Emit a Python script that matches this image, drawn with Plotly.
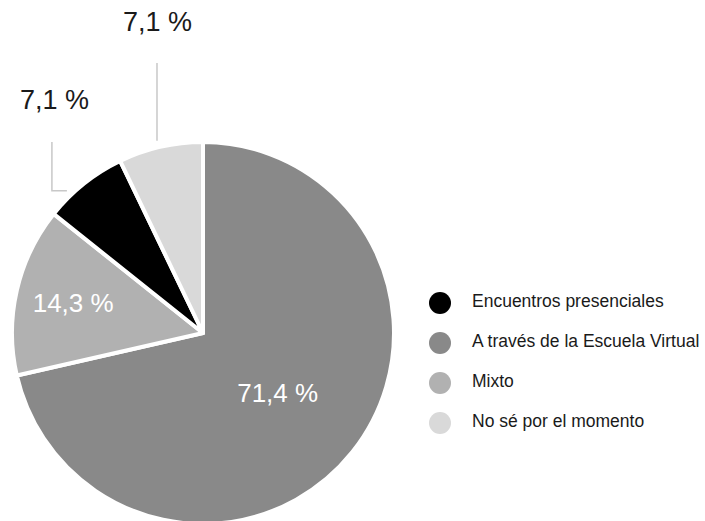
import math
import plotly.graph_objects as go

# ---- data (legend order) ----
labels = ["Encuentros presenciales", "A través de la Escuela Virtual", "Mixto", "No sé por el momento"]
values = [1, 10, 2, 1]
colors = ["#000000", "#898989", "#b1b1b1", "#d9d9d9"]
inside = [False, True, True, False]
# clockwise order of the slices starting at 12 o'clock
pie_order = [1, 2, 0, 3]

W, H = 705, 521
HF = 524  # figure slightly taller than the window so the pie bottom is cut like the reference
FONT = "Liberation Sans, Arial, sans-serif"

total = sum(values)
pct_text = [f"{v / total * 100:.1f} %".replace(".", ",") for v in values]

# pie geometry (pixels)
R = 191
CX, CY = 203, HF - R

p_labels = [labels[i] for i in pie_order]
p_values = [values[i] for i in pie_order]
p_colors = [colors[i] for i in pie_order]
p_inside = [inside[i] for i in pie_order]
p_text = [pct_text[i] for i in pie_order]

fig = go.Figure()
fig.add_trace(go.Pie(
    labels=p_labels, values=p_values, sort=False, direction="clockwise",
    rotation=0,
    marker=dict(colors=p_colors, line=dict(color="white", width=4)),
    text=[t if ins else "" for t, ins in zip(p_text, p_inside)],
    textinfo="text",
    textposition=["inside" if ins else "none" for ins in p_inside],
    insidetextorientation="horizontal",
    insidetextfont=dict(color="white", size=26, family=FONT),
    domain=dict(x=[(CX - R) / W, (CX + R) / W], y=[0, 2 * R / HF]),
    showlegend=False, hoverinfo="label+percent",
))

# ---- outside labels with leader lines (derived from slice angles) ----
def px2paper(x, y):
    return x / W, 1 - y / HF

cum = 0.0
mid = {}
for k, v in zip(pie_order, p_values):
    a0 = cum / total * 360
    a1 = a0 + v / total * 360
    mid[k] = (a0 + a1) / 2
    cum += v

shapes = []
annotations = []
for i, ins in enumerate(inside):
    if ins:
        continue
    th = math.radians(mid[i])
    px = CX + R * math.sin(th)
    py = CY - R * math.cos(th)
    if i == 0:
        ex = px - 32
        top = CY - R
        pts = [(px - 17, py + 7), (ex, py + 7), (ex, top)]
        lx_px, ly_px = ex + 3, top - 42
    else:
        ex = px - 3.5
        top = CY - R - 79
        pts = [(ex, py - 6), (ex, top)]
        lx_px, ly_px = ex + 1, top - 41
    path = "M " + " L ".join(f"{px2paper(x, y)[0]} {px2paper(x, y)[1]}" for x, y in pts)
    shapes.append(dict(type="path", path=path, xref="paper", yref="paper",
                       line=dict(color="#c8c8c8", width=1.5)))
    lx, ly = px2paper(lx_px, ly_px)
    annotations.append(dict(x=lx, y=ly, xref="paper", yref="paper", text=pct_text[i],
                            showarrow=False, xanchor="center", yanchor="middle",
                            font=dict(size=27, color="#1a1a1a", family=FONT)))

# ---- legend (circles) on hidden axes ----
rows = list(range(len(labels)))
fig.add_trace(go.Scatter(
    x=[10] * len(labels), y=rows, mode="markers",
    marker=dict(size=22, color=colors, line=dict(width=0)),
    showlegend=False, hoverinfo="skip", cliponaxis=False,
))
fig.add_trace(go.Scatter(
    x=[42] * len(labels), y=rows, mode="text", text=labels,
    textposition="middle right",
    textfont=dict(size=17.5, color="#1a1a1a", family=FONT),
    showlegend=False, hoverinfo="skip", cliponaxis=False,
))

fig.update_layout(
    width=W, height=HF, margin=dict(l=0, r=0, t=0, b=0),
    paper_bgcolor="white", plot_bgcolor="rgba(0,0,0,0)",
    font=dict(family=FONT),
    xaxis=dict(domain=[430 / W, 1], range=[0, W - 430], visible=False, fixedrange=True),
    yaxis=dict(domain=[(HF - 443) / HF, (HF - 283) / HF], range=[3.5, -0.5],
               visible=False, fixedrange=True),
    shapes=shapes, annotations=annotations,
)

fig.write_html("out.html", config={"displayModeBar": False},
               post_script="document.body.style.margin='0';document.body.style.overflow='hidden';")
